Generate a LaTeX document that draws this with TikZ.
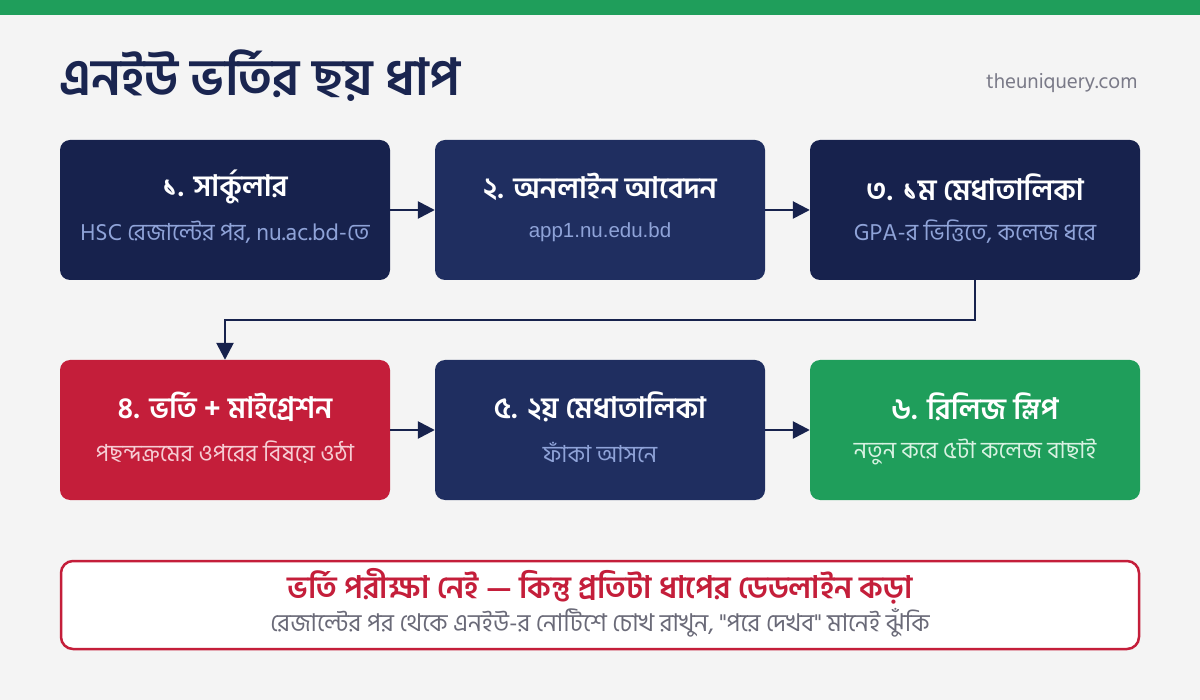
\documentclass[tikz,border=0pt]{standalone}
\usepackage{fontspec}
\usetikzlibrary{arrows.meta}
\newfontfamily\bn[Script=Bengali]{Hind Siliguri}
\newfontfamily\arialf{Liberation Sans}
\definecolor{bgc}{HTML}{F4F4F4}
\definecolor{greenc}{HTML}{1F9E5B}
\definecolor{navyA}{HTML}{17224D}
\definecolor{navyB}{HTML}{1F2E60}
\definecolor{redc}{HTML}{C41E3A}
\definecolor{subblue}{HTML}{8FA3D8}
\definecolor{titlec}{HTML}{1A2550}
\definecolor{grayc}{HTML}{7A7A88}
\definecolor{subred}{HTML}{F6CDD4}
\definecolor{subgreen}{HTML}{D8F2E2}
\definecolor{notegray}{HTML}{6A6A78}
\tikzset{
  stepbox/.style={rounded corners=10pt, minimum width=330pt, minimum height=140pt, inner sep=0pt},
  ttl/.style={text=white, font=\bn\bfseries\fontsize{29.5}{34}\selectfont},
  sub/.style={font=\bn\fontsize{23.5}{27}\selectfont},
  arr/.style={draw=navyA, line width=2.6pt, -{Triangle[length=17pt,width=17pt]}},
}
\begin{document}
\begin{tikzpicture}[x=1pt,y=-1pt]
\useasboundingbox (0,0) rectangle (1200,700);
\fill[bgc] (0,0) rectangle (1200,700);
\fill[greenc] (0,0) rectangle (1200,15);
\node[anchor=west, text=titlec, font=\bn\bfseries\fontsize{51}{58}\selectfont] (title) at (56,76) {এনইউ ভর্তির ছয় ধাপ};
\node[anchor=east, text=grayc, font=\bn\fontsize{21}{25}\selectfont] (site) at (1141,83) {theuniquery.com};
% boxes
\node[stepbox, fill=navyA] (b1) at (225,210) {};
\node[stepbox, fill=navyB] (b2) at (600,210) {};
\node[stepbox, fill=navyA] (b3) at (975,210) {};
\node[stepbox, fill=redc] (b4) at (225,430) {};
\node[stepbox, fill=navyB] (b5) at (600,430) {};
\node[stepbox, fill=greenc] (b6) at (975,430) {};
% texts
\node[ttl] (t1) at (225,187) {১. সার্কুলার};
\node[sub, text=subblue] (s1) at (225,232) {HSC রেজাল্টের পর, nu.ac.bd-তে};
\node[ttl] (t2) at (600,187) {২. অনলাইন আবেদন};
\node[text=subblue, font=\arialf\fontsize{20.5}{24}\selectfont] (s2) at (600,232) {app1.nu.edu.bd};
\node[ttl] (t3) at (975,187) {৩. ১ম মেধাতালিকা};
\node[sub, text=subblue] (s3) at (975,232) {GPA-র ভিত্তিতে, কলেজ ধরে};
\node[ttl] (t4) at (225,407) {৪. ভর্তি + মাইগ্রেশন};
\node[sub, text=subred] (s4) at (225,452) {পছন্দক্রমের ওপরের বিষয়ে ওঠা};
\node[ttl] (t5) at (600,407) {৫. ২য় মেধাতালিকা};
\node[sub, text=subblue] (s5) at (600,452) {ফাঁকা আসনে};
\node[ttl] (t6) at (975,407) {৬. রিলিজ স্লিপ};
\node[sub, text=subgreen] (s6) at (975,452) {নতুন করে ৫টা কলেজ বাছাই};
% arrows
\draw[arr] (b1.east) -- (b2.west);
\draw[arr] (b2.east) -- (b3.west);
\draw[arr] (b4.east) -- (b5.west);
\draw[arr] (b5.east) -- (b6.west);
\coordinate (c1) at (975,320);
\coordinate (c2) at (225,320);
\draw[arr] (b3.south) -- (c1) -- (c2) -- (b4.north);
% note
\node[draw=redc, line width=2.5pt, fill=white, rounded corners=12pt, minimum width=1078pt, minimum height=88pt, inner sep=0pt] (note) at (600,605) {};
\node[text=redc, font=\bn\bfseries\fontsize{31}{36}\selectfont] (n1) at (600,586) {ভর্তি পরীক্ষা নেই — কিন্তু প্রতিটা ধাপের ডেডলাইন কড়া};
\node[text=notegray, font=\bn\fontsize{24.5}{28}\selectfont] (n2) at (600,623) {রেজাল্টের পর থেকে এনইউ-র নোটিশে চোখ রাখুন, "পরে দেখব" মানেই ঝুঁকি};
\end{tikzpicture}
\end{document}
